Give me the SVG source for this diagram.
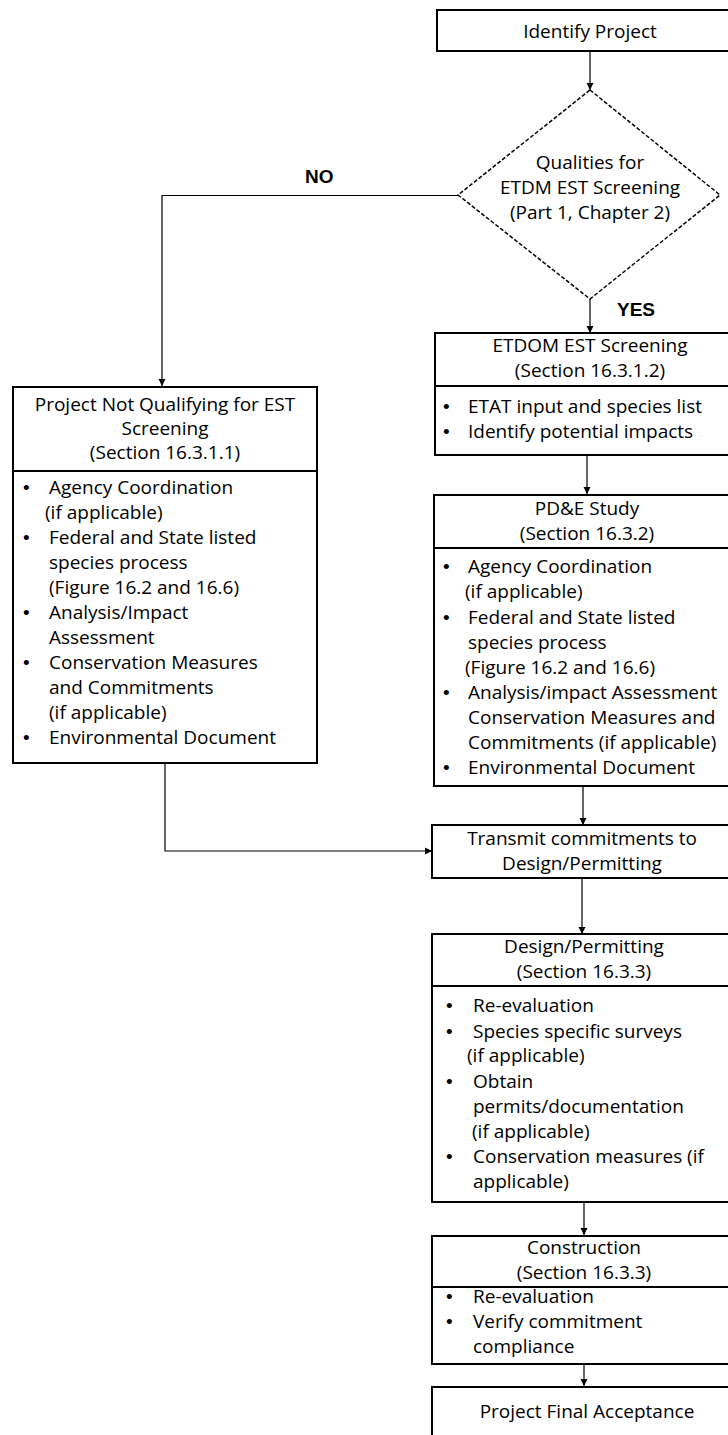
<svg xmlns="http://www.w3.org/2000/svg" width="728" height="1435" viewBox="0 0 728 1435">
<style>
.box{fill:#fff;stroke:#000;stroke-width:2}
.div{stroke:#000;stroke-width:2}
.dia{fill:#fff;stroke:#000;stroke-width:1.5;stroke-dasharray:4 2}
.t{font-family:"Open Sans","Liberation Sans",sans-serif;font-size:19px;fill:#000}
.c{text-anchor:middle}
.u{font-family:"Liberation Sans",Arial,sans-serif;font-size:19px;fill:#000}
.b{font-family:"Liberation Sans",Arial,sans-serif;font-size:19px;font-weight:bold;fill:#000}
.con{fill:none;stroke:#000;stroke-width:1.2}
</style>
<defs>
<marker id="ah" markerUnits="userSpaceOnUse" markerWidth="8" markerHeight="8" refX="7" refY="4" orient="auto">
<path d="M0,0.5 L7,4 L0,7.5 Z" fill="#000"/>
</marker>
</defs>
<rect width="728" height="1435" fill="#fff"/>
<g id="connectors">
<path class="con" d="M590,51 V90" marker-end="url(#ah)"/>
<path class="con" d="M590,299 V333" marker-end="url(#ah)"/>
<path class="con" d="M458,195.5 H162 V386" marker-end="url(#ah)"/>
<path class="con" d="M587,455 V494" marker-end="url(#ah)"/>
<path class="con" d="M583,786 V825" marker-end="url(#ah)"/>
<path class="con" d="M165,763 V851 H432" marker-end="url(#ah)"/>
<path class="con" d="M582,878 V934" marker-end="url(#ah)"/>
<path class="con" d="M584,1202 V1235" marker-end="url(#ah)"/>
<path class="con" d="M584,1364 V1386" marker-end="url(#ah)"/>
<text class="b" x="305" y="183">NO</text>
<text class="b" x="617" y="316">YES</text>
</g>
<g id="identify">
<rect class="box" x="437" y="10" width="310" height="41"/>
<text class="t c" x="590" y="38">Identify Project</text>
</g>
<g id="decision">
<polygon class="dia" points="590,90 720,195 590,299 458,195"/>
<text class="t c" x="590" y="169">Qualities for</text>
<text class="t c" x="590" y="194">ETDM EST Screening</text>
<text class="t c" x="590" y="219">(Part 1, Chapter 2)</text>
</g>
<g id="not-qualifying">
<rect class="box" x="13" y="387" width="304" height="376"/>
<line class="div" x1="13" y1="471" x2="317" y2="471"/>
<text class="t c" x="165" y="411">Project Not Qualifying for EST</text>
<text class="t c" x="165" y="435">Screening</text>
<text class="t c" x="165" y="459">(Section 16.3.1.1)</text>
<g class="u">
<text x="23" y="494">•</text><text x="23" y="544">•</text><text x="23" y="619">•</text><text x="23" y="669">•</text><text x="23" y="744">•</text>
</g>
<g class="t">
<text x="49" y="494">Agency Coordination</text>
<text x="45" y="519">(if applicable)</text>
<text x="49" y="544">Federal and State listed</text>
<text x="49" y="569">species process</text>
<text x="49" y="594">(Figure 16.2 and 16.6)</text>
<text x="49" y="619">Analysis/Impact</text>
<text x="49" y="644">Assessment</text>
<text x="49" y="669">Conservation Measures</text>
<text x="49" y="694">and Commitments</text>
<text x="49" y="719">(if applicable)</text>
<text x="49" y="744">Environmental Document</text>
</g>
</g>
<g id="etdom">
<rect class="box" x="435" y="333" width="312" height="122"/>
<line class="div" x1="435" y1="386" x2="747" y2="386"/>
<text class="t c" x="590" y="352">ETDOM EST Screening</text>
<text class="t c" x="590" y="377">(Section 16.3.1.2)</text>
<g class="u">
<text x="443" y="413">•</text><text x="443" y="438">•</text>
</g>
<g class="t">
<text x="468" y="413">ETAT input and species list</text>
<text x="468" y="438">Identify potential impacts</text>
</g>
</g>
<g id="pde">
<rect class="box" x="434" y="495" width="313" height="291"/>
<line class="div" x1="434" y1="548" x2="747" y2="548"/>
<text class="t c" x="587" y="515">PD&amp;E Study</text>
<text class="t c" x="587" y="540">(Section 16.3.2)</text>
<g class="u">
<text x="443" y="573">•</text><text x="443" y="624">•</text><text x="443" y="699">•</text><text x="443" y="774">•</text>
</g>
<g class="t">
<text x="468" y="573">Agency Coordination</text>
<text x="465" y="598">(if applicable)</text>
<text x="468" y="624">Federal and State listed</text>
<text x="468" y="649">species process</text>
<text x="465" y="674">(Figure 16.2 and 16.6)</text>
<text x="468" y="699">Analysis/impact Assessment</text>
<text x="468" y="724">Conservation Measures and</text>
<text x="468" y="749">Commitments (if applicable)</text>
<text x="468" y="774">Environmental Document</text>
</g>
</g>
<g id="transmit">
<rect class="box" x="432" y="825" width="315" height="53"/>
<text class="t c" x="582" y="845">Transmit commitments to</text>
<text class="t c" x="582" y="870">Design/Permitting</text>
</g>
<g id="design">
<rect class="box" x="432" y="934" width="315" height="268"/>
<line class="div" x1="432" y1="986" x2="747" y2="986"/>
<text class="t c" x="584" y="953">Design/Permitting</text>
<text class="t c" x="584" y="978">(Section 16.3.3)</text>
<g class="u">
<text x="446" y="1012">•</text><text x="446" y="1038">•</text><text x="446" y="1088">•</text><text x="446" y="1163">•</text>
</g>
<g class="t">
<text x="473" y="1012">Re-evaluation</text>
<text x="473" y="1038">Species specific surveys</text>
<text x="467" y="1062">(if applicable)</text>
<text x="473" y="1088">Obtain</text>
<text x="473" y="1113">permits/documentation</text>
<text x="472" y="1138">(if applicable)</text>
<text x="473" y="1163">Conservation measures (if</text>
<text x="473" y="1188">applicable)</text>
</g>
</g>
<g id="construction">
<rect class="box" x="432" y="1236" width="315" height="128"/>
<line class="div" x1="432" y1="1287" x2="747" y2="1287"/>
<text class="t c" x="584" y="1254">Construction</text>
<text class="t c" x="584" y="1279">(Section 16.3.3)</text>
<g class="u">
<text x="446" y="1303">•</text><text x="446" y="1328">•</text>
</g>
<g class="t">
<text x="473" y="1303">Re-evaluation</text>
<text x="473" y="1328">Verify commitment</text>
<text x="473" y="1353">compliance</text>
</g>
</g>
<g id="final">
<rect class="box" x="432" y="1387" width="315" height="60"/>
<text class="t c" x="587" y="1418">Project Final Acceptance</text>
</g>
</svg>
